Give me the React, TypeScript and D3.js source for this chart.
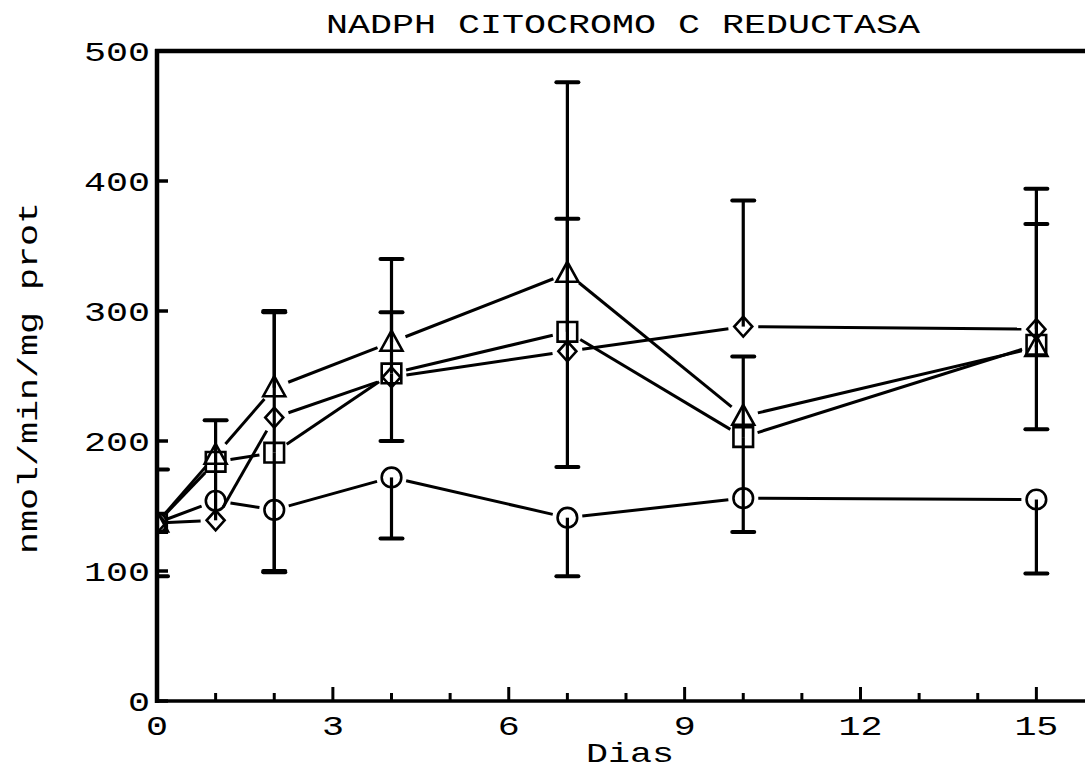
import React from "react";
import * as d3 from "d3";

// Sampling days
const days = [0, 1, 2, 4, 7, 10, 15];

// Mean activity per group (nmol/min/mg prot)
const circleMean = [137, 154, 147, 172, 141, 156, 155];
const triangleMean = [137, 189, 241, 276, 329, 219, 272];
const squareMean = [137, 184, 191, 252, 284, 203, 274];
const diamondMean = [137, 139, 218, 249, 269, 288, 286];

// Error bar extents above / below the mean (null = no bar drawn)
const circleUp = [41, null, null, null, null, null, null];
const circleDown = [41, null, 48, 47, 45, null, 57];
const triangleUp = [null, null, 59, 64, 147, null, 95];
const triangleDown = [null, null, null, null, 149, null, null];
const squareUp = [null, null, 108, 47, 87, 62, null];
const squareDown = [null, null, 91, 52, null, 73, 65];
const diamondUp = [null, 77, null, null, null, 97, 108];
const diamondDown = [null, null, null, null, null, null, null];

// Axis ticks
const yTicks = [0, 100, 200, 300, 400, 500];
const xLabelTicks = [0, 3, 6, 9, 12, 15];
const xMinorTicks = d3.range(0, 17);

const W = 1085;
const H = 774;
const FONT = "'Liberation Mono', 'Courier New', monospace";
const FS = 28;
const CH = 22; // stretched advance per character

type Shape = "circle" | "triangle" | "square" | "diamond";

const series: { shape: Shape; mean: number[]; up: (number | null)[]; down: (number | null)[] }[] = [
  { shape: "circle", mean: circleMean, up: circleUp, down: circleDown },
  { shape: "diamond", mean: diamondMean, up: diamondUp, down: diamondDown },
  { shape: "square", mean: squareMean, up: squareUp, down: squareDown },
  { shape: "triangle", mean: triangleMean, up: triangleUp, down: triangleDown },
];

const x = d3.scaleLinear().domain([0, 16]).range([157, 1095]);
const y = d3.scaleLinear().domain([0, 500]).range([701, 51]);

function markerPath(shape: Shape): string {
  const p = d3.path();
  if (shape === "circle") {
    p.arc(0, 0, 9.8, 0, Math.PI * 2);
  } else if (shape === "square") {
    p.rect(-9.8, -9.8, 19.6, 19.6);
  } else if (shape === "triangle") {
    p.moveTo(0, -11.5);
    p.lineTo(11, 8.5);
    p.lineTo(-11, 8.5);
    p.closePath();
  } else {
    p.moveTo(0, -10);
    p.lineTo(9, 0);
    p.lineTo(0, 10);
    p.lineTo(-9, 0);
    p.closePath();
  }
  return p.toString();
}

function StretchText(props: {
  x: number;
  y: number;
  text: string;
  anchor?: string;
  transform?: string;
}) {
  return (
    <text
      x={props.x}
      y={props.y}
      textAnchor={props.anchor ?? "middle"}
      fontFamily={FONT}
      fontSize={FS}
      fill="#000"
      textLength={props.text.length * CH}
      lengthAdjust="spacingAndGlyphs"
      transform={props.transform}
    >
      {props.text}
    </text>
  );
}

export default function App() {
  const gap = 15;
  const segments: { x1: number; y1: number; x2: number; y2: number }[] = [];
  series.forEach((s) => {
    for (let i = 0; i < days.length - 1; i++) {
      const ax = x(days[i]);
      const ay = y(s.mean[i]);
      const bx = x(days[i + 1]);
      const by = y(s.mean[i + 1]);
      const dx = bx - ax;
      const dy = by - ay;
      const len = Math.hypot(dx, dy);
      const g0 = i === 0 ? 11 : gap;
      if (len <= g0 + gap) continue;
      const ux = dx / len;
      const uy = dy / len;
      segments.push({
        x1: ax + ux * g0,
        y1: ay + uy * g0,
        x2: bx - ux * gap,
        y2: by - uy * gap,
      });
    }
  });

  const bars: { cx: number; y1: number; y2: number }[] = [];
  series.forEach((s) => {
    days.forEach((d, i) => {
      const u = s.up[i];
      const dn = s.down[i];
      if (u != null) bars.push({ cx: x(d), y1: y(s.mean[i]), y2: y(s.mean[i] + u) });
      if (dn != null) bars.push({ cx: x(d), y1: y(s.mean[i]), y2: y(s.mean[i] - dn) });
    });
  });

  const capW = 11;

  return (
    <svg width={W} height={H} style={{ position: "absolute", left: 0, top: 0, background: "#fff" }}>
      <defs>
        <clipPath id="plotClip">
          <rect x={x(0)} y={30} width={W} height={y(0) - 30} />
        </clipPath>
      </defs>
      <rect x={0} y={0} width={W} height={H} fill="#fff" />

      <g clipPath="url(#plotClip)">
        {bars.map((b, i) => (
          <g key={"b" + i}>
            <line x1={b.cx} x2={b.cx} y1={b.y1} y2={b.y2} stroke="#000" strokeWidth={3.2} />
            <line
              x1={b.cx - capW}
              x2={b.cx + capW}
              y1={b.y2}
              y2={b.y2}
              stroke="#000"
              strokeWidth={4}
              strokeLinecap="round"
            />
          </g>
        ))}
        {segments.map((s, i) => (
          <line key={"s" + i} x1={s.x1} y1={s.y1} x2={s.x2} y2={s.y2} stroke="#000" strokeWidth={3} />
        ))}
        {series.map((s) =>
          days.map((d, i) => (
            <path
              key={s.shape + i}
              d={markerPath(s.shape)}
              transform={`translate(${x(d)},${y(s.mean[i])})`}
              fill="none"
              stroke="#000"
              strokeWidth={2.6}
            />
          ))
        )}
      </g>

      {/* frame: left axis, bottom axis, top border */}
      <line x1={x(0)} x2={x(0)} y1={y(500) - 2} y2={y(0) + 2} stroke="#000" strokeWidth={4.5} />
      <line x1={x(0) - 2} x2={W} y1={y(0)} y2={y(0)} stroke="#000" strokeWidth={3.5} />
      <line x1={x(0) - 2} x2={W} y1={y(500)} y2={y(500)} stroke="#000" strokeWidth={4.5} />

      {/* y ticks */}
      {yTicks.map((t) => (
        <g key={"yt" + t}>
          <line x1={x(0)} x2={x(0) + 11} y1={y(t)} y2={y(t)} stroke="#000" strokeWidth={3.5} />
          <StretchText x={150} y={y(t) + 10} text={String(t)} anchor="end" />
        </g>
      ))}

      {/* x ticks */}
      {xMinorTicks.map((t) => (
        <line
          key={"xt" + t}
          x1={x(t)}
          x2={x(t)}
          y1={y(0)}
          y2={y(0) - (t % 3 === 0 ? 14 : 8)}
          stroke="#000"
          strokeWidth={3}
        />
      ))}
      {xLabelTicks.map((t) => (
        <StretchText key={"xl" + t} x={x(t)} y={735} text={String(t)} />
      ))}

      {/* titles */}
      <StretchText x={623} y={33} text="NADPH CITOCROMO C REDUCTASA" />
      <StretchText x={630} y={762} text="Dias" />
      <StretchText x={0} y={0} text="nmol/min/mg prot" transform="translate(37,378) rotate(-90)" />
    </svg>
  );
}
